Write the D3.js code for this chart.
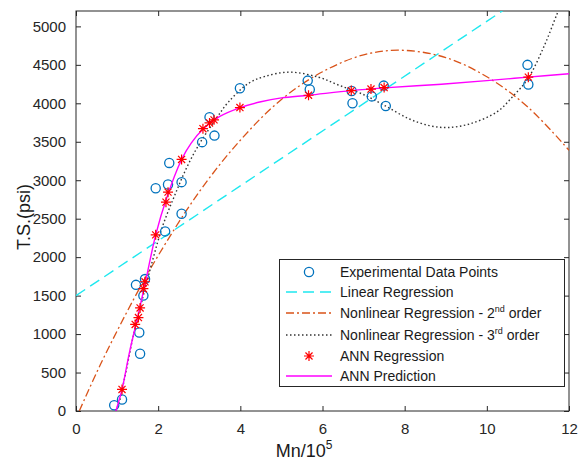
<!DOCTYPE html>
<html>
<head>
<meta charset="utf-8">
<script src="https://cdn.jsdelivr.net/npm/d3@7"></script>
<style>
    body { margin: 0; background: #fff; }
    text { font-family: Arial, "Liberation Sans", sans-serif; }
</style>
</head>
<body>
<div id="chart"></div>
<script>
// experimental data points (Mn/10^5, T.S.)
var expX = [0.93, 1.12, 1.46, 1.54, 1.56, 1.64, 1.68, 1.94, 2.17, 2.24, 2.27, 2.57, 2.57, 3.07, 3.25, 3.37, 3.99, 5.64, 5.69, 6.71, 6.73, 7.20, 7.49, 7.54, 10.99, 11.01];
var expY = [75, 150, 1640, 1020, 745, 1500, 1715, 2895, 2335, 2945, 3225, 2975, 2565, 3495, 3820, 3580, 4195, 4295, 4180, 4160, 4000, 4090, 4230, 3965, 4500, 4245];

// ANN regression points
var annX = [1.12, 1.44, 1.52, 1.56, 1.64, 1.68, 1.94, 2.19, 2.24, 2.57, 3.09, 3.25, 3.36, 3.99, 5.66, 6.70, 7.18, 7.50, 11.01];
var annY = [280, 1125, 1215, 1340, 1590, 1680, 2290, 2715, 2845, 3270, 3670, 3745, 3785, 3945, 4105, 4165, 4185, 4205, 4340];

// ANN prediction curve
var predX = [0.97, 1.12, 1.3, 1.5, 1.7, 1.94, 2.2, 2.57, 2.8, 3.1, 3.5, 4.0, 4.5, 5.0, 5.66, 6.7, 7.5, 8.8, 10.0, 11.0, 12.0];
var predY = [0, 280, 760, 1220, 1700, 2290, 2760, 3270, 3480, 3670, 3830, 3945, 4020, 4070, 4105, 4165, 4200, 4245, 4295, 4340, 4385];

// linear regression
var linX = [0, 12];
var linY = [1500, 5780];

// nonlinear regression - 2nd order
var quadX = [0.08, 0.6, 1.4, 2.0, 3.0, 4.0, 5.0, 6.0, 7.0, 7.9, 9.0, 10.0, 11.0, 12.0];
var quadY = [0, 610, 1450, 2020, 2850, 3520, 4050, 4410, 4630, 4690, 4595, 4345, 3950, 3390];

// nonlinear regression - 3rd order
var cubX = [0.97, 1.05, 1.2, 1.4, 1.6, 1.86, 2.1, 2.4, 2.7, 3.0, 3.4, 3.7, 4.2, 4.6, 5.2, 5.9, 6.4, 6.95, 7.5, 8.1, 8.6, 9.05, 9.6, 10.25, 10.65, 11.0, 11.4, 11.7, 11.8];
var cubY = [0, 110, 470, 990, 1420, 1950, 2390, 2800, 3170, 3470, 3790, 4010, 4260, 4350, 4405, 4340, 4235, 4125, 3975, 3800, 3710, 3685, 3735, 3890, 4100, 4320, 4750, 5150, 5280];

var xTicks = [0, 2, 4, 6, 8, 10, 12];
var yTicks = [0, 500, 1000, 1500, 2000, 2500, 3000, 3500, 4000, 4500, 5000];

var width = 579, height = 463;
var margin = {left: 76, right: 10, top: 11, bottom: 52};
var plotW = width - margin.left - margin.right;
var plotH = height - margin.top - margin.bottom;

var svg = d3.select('#chart').append('svg').attr('width', width).attr('height', height);
var g = svg.append('g').attr('transform', 'translate(' + margin.left + ',' + margin.top + ')');

var x = d3.scaleLinear().domain([0, 12]).range([0, plotW]);
var y = d3.scaleLinear().domain([0, 5200]).range([plotH, 0]);

function pairs(xs, ys) {
    return xs.map(function (d, i) { return [d, ys[i]]; });
}

g.append('clipPath').attr('id', 'clip')
    .append('rect').attr('width', plotW).attr('height', plotH);

//axes with inward ticks on all four sides
var axisColor = '#262626';
g.append('g').attr('transform', 'translate(0,' + plotH + ')')
    .call(d3.axisBottom(x).tickValues(xTicks).tickFormat(d3.format('d')).tickSize(-5).tickPadding(12).tickSizeOuter(0));
g.append('g')
    .call(d3.axisTop(x).tickValues(xTicks).tickSize(-5).tickFormat('').tickSizeOuter(0));
g.append('g')
    .call(d3.axisLeft(y).tickValues(yTicks).tickFormat(d3.format('d')).tickSize(-5).tickPadding(10).tickSizeOuter(0));
g.append('g').attr('transform', 'translate(' + plotW + ',0)')
    .call(d3.axisRight(y).tickValues(yTicks).tickSize(-5).tickFormat('').tickSizeOuter(0));
g.selectAll('.domain').remove();
g.selectAll('.tick line').attr('stroke', axisColor);
g.selectAll('.tick text').attr('fill', axisColor).style('font-size', '15px')
    .style('font-family', 'Arial, "Liberation Sans", sans-serif');
g.append('rect').attr('width', plotW).attr('height', plotH)
    .attr('fill', 'none').attr('stroke', axisColor).attr('stroke-width', 1);

var line = d3.line()
    .x(function (d) { return x(d[0]); })
    .y(function (d) { return y(d[1]); });
var smooth = d3.line()
    .x(function (d) { return x(d[0]); })
    .y(function (d) { return y(d[1]); })
    .curve(d3.curveCatmullRom);

var plot = g.append('g').attr('clip-path', 'url(#clip)');

var styles = {
    lin: {color: '#1ee8ef', dash: '11,6', w: 1.4},
    quad: {color: '#d95319', dash: '8,3,2,3', w: 1.3},
    cub: {color: '#333333', dash: '1.5,2.5', w: 1.4},
    pred: {color: '#ff00ff', dash: null, w: 1.4}
};

plot.append('path').datum(pairs(linX, linY)).attr('d', line)
    .attr('fill', 'none').attr('stroke', styles.lin.color).attr('stroke-width', styles.lin.w)
    .attr('stroke-dasharray', styles.lin.dash);
plot.append('path').datum(pairs(quadX, quadY)).attr('d', smooth)
    .attr('fill', 'none').attr('stroke', styles.quad.color).attr('stroke-width', styles.quad.w)
    .attr('stroke-dasharray', styles.quad.dash);
plot.append('path').datum(pairs(cubX, cubY)).attr('d', smooth)
    .attr('fill', 'none').attr('stroke', styles.cub.color).attr('stroke-width', styles.cub.w)
    .attr('stroke-dasharray', styles.cub.dash);

// experimental circles
plot.selectAll('circle.exp')
    .data(pairs(expX, expY))
    .enter()
    .append('circle')
    .attr('class', 'exp')
    .attr('cx', function (d) { return x(d[0]); })
    .attr('cy', function (d) { return y(d[1]); })
    .attr('r', 4.6)
    .attr('fill', 'none')
    .attr('stroke', '#0072bd')
    .attr('stroke-width', 1.3);

plot.append('path').datum(pairs(predX, predY)).attr('d', smooth)
    .attr('fill', 'none').attr('stroke', styles.pred.color).attr('stroke-width', styles.pred.w);

// asterisk marker
function star(s) {
    var a = s * 0.7071;
    return 'M' + (-s) + ',0L' + s + ',0M0,' + (-s) + 'L0,' + s +
        'M' + (-a) + ',' + (-a) + 'L' + a + ',' + a + 'M' + (-a) + ',' + a + 'L' + a + ',' + (-a);
}
plot.selectAll('path.ann')
    .data(pairs(annX, annY))
    .enter()
    .append('path')
    .attr('class', 'ann')
    .attr('transform', function (d) { return 'translate(' + x(d[0]) + ',' + y(d[1]) + ')'; })
    .attr('d', star(5))
    .attr('stroke', '#ff0000')
    .attr('stroke-width', 1.2)
    .attr('fill', 'none');

// axis labels
svg.append('text')
    .attr('x', 304).attr('y', 457)
    .attr('text-anchor', 'middle')
    .style('font-size', '18px').attr('fill', '#1a1a1a')
    .text('Mn/10')
    .append('tspan').attr('dy', -8).style('font-size', '12px').text('5');
svg.append('text')
    .attr('transform', 'translate(30,217) rotate(-90)')
    .attr('text-anchor', 'middle')
    .style('font-size', '18px').attr('fill', '#1a1a1a')
    .text('T.S.(psi)');

//legend
var leg = svg.append('g');
leg.append('rect').attr('x', 279.5).attr('y', 259.5).attr('width', 285).attr('height', 127)
    .attr('fill', '#fff').attr('stroke', '#262626').attr('stroke-width', 1);

var rows = [
    {y: 272, type: 'circle', label: 'Experimental Data Points'},
    {y: 292, type: 'lin', label: 'Linear Regression'},
    {y: 313, type: 'quad', label: 'Nonlinear Regression - 2', sup: 'nd', tail: ' order'},
    {y: 335, type: 'cub', label: 'Nonlinear Regression - 3', sup: 'rd', tail: ' order'},
    {y: 356, type: 'star', label: 'ANN Regression'},
    {y: 376, type: 'pred', label: 'ANN Prediction'}
];
rows.forEach(function (r) {
    if (r.type === 'circle') {
        leg.append('circle').attr('cx', 309).attr('cy', r.y).attr('r', 4.6)
            .attr('fill', 'none').attr('stroke', '#0072bd').attr('stroke-width', 1.3);
    } else if (r.type === 'star') {
        leg.append('path').attr('transform', 'translate(309,' + r.y + ')').attr('d', star(5))
            .attr('stroke', '#ff0000').attr('stroke-width', 1.2);
    } else {
        var s = styles[r.type];
        leg.append('line').attr('x1', 286).attr('x2', 332).attr('y1', r.y).attr('y2', r.y)
            .attr('stroke', s.color).attr('stroke-width', s.w)
            .attr('stroke-dasharray', s.dash);
    }
    var t = leg.append('text').attr('x', 340).attr('y', r.y + 5)
        .style('font-size', '14px').attr('fill', '#1a1a1a').text(r.label);
    if (r.sup) {
        t.append('tspan').attr('dy', -6).style('font-size', '9px').text(r.sup);
        t.append('tspan').attr('dy', 6).text(r.tail);
    }
});
</script>
</body>
</html>
